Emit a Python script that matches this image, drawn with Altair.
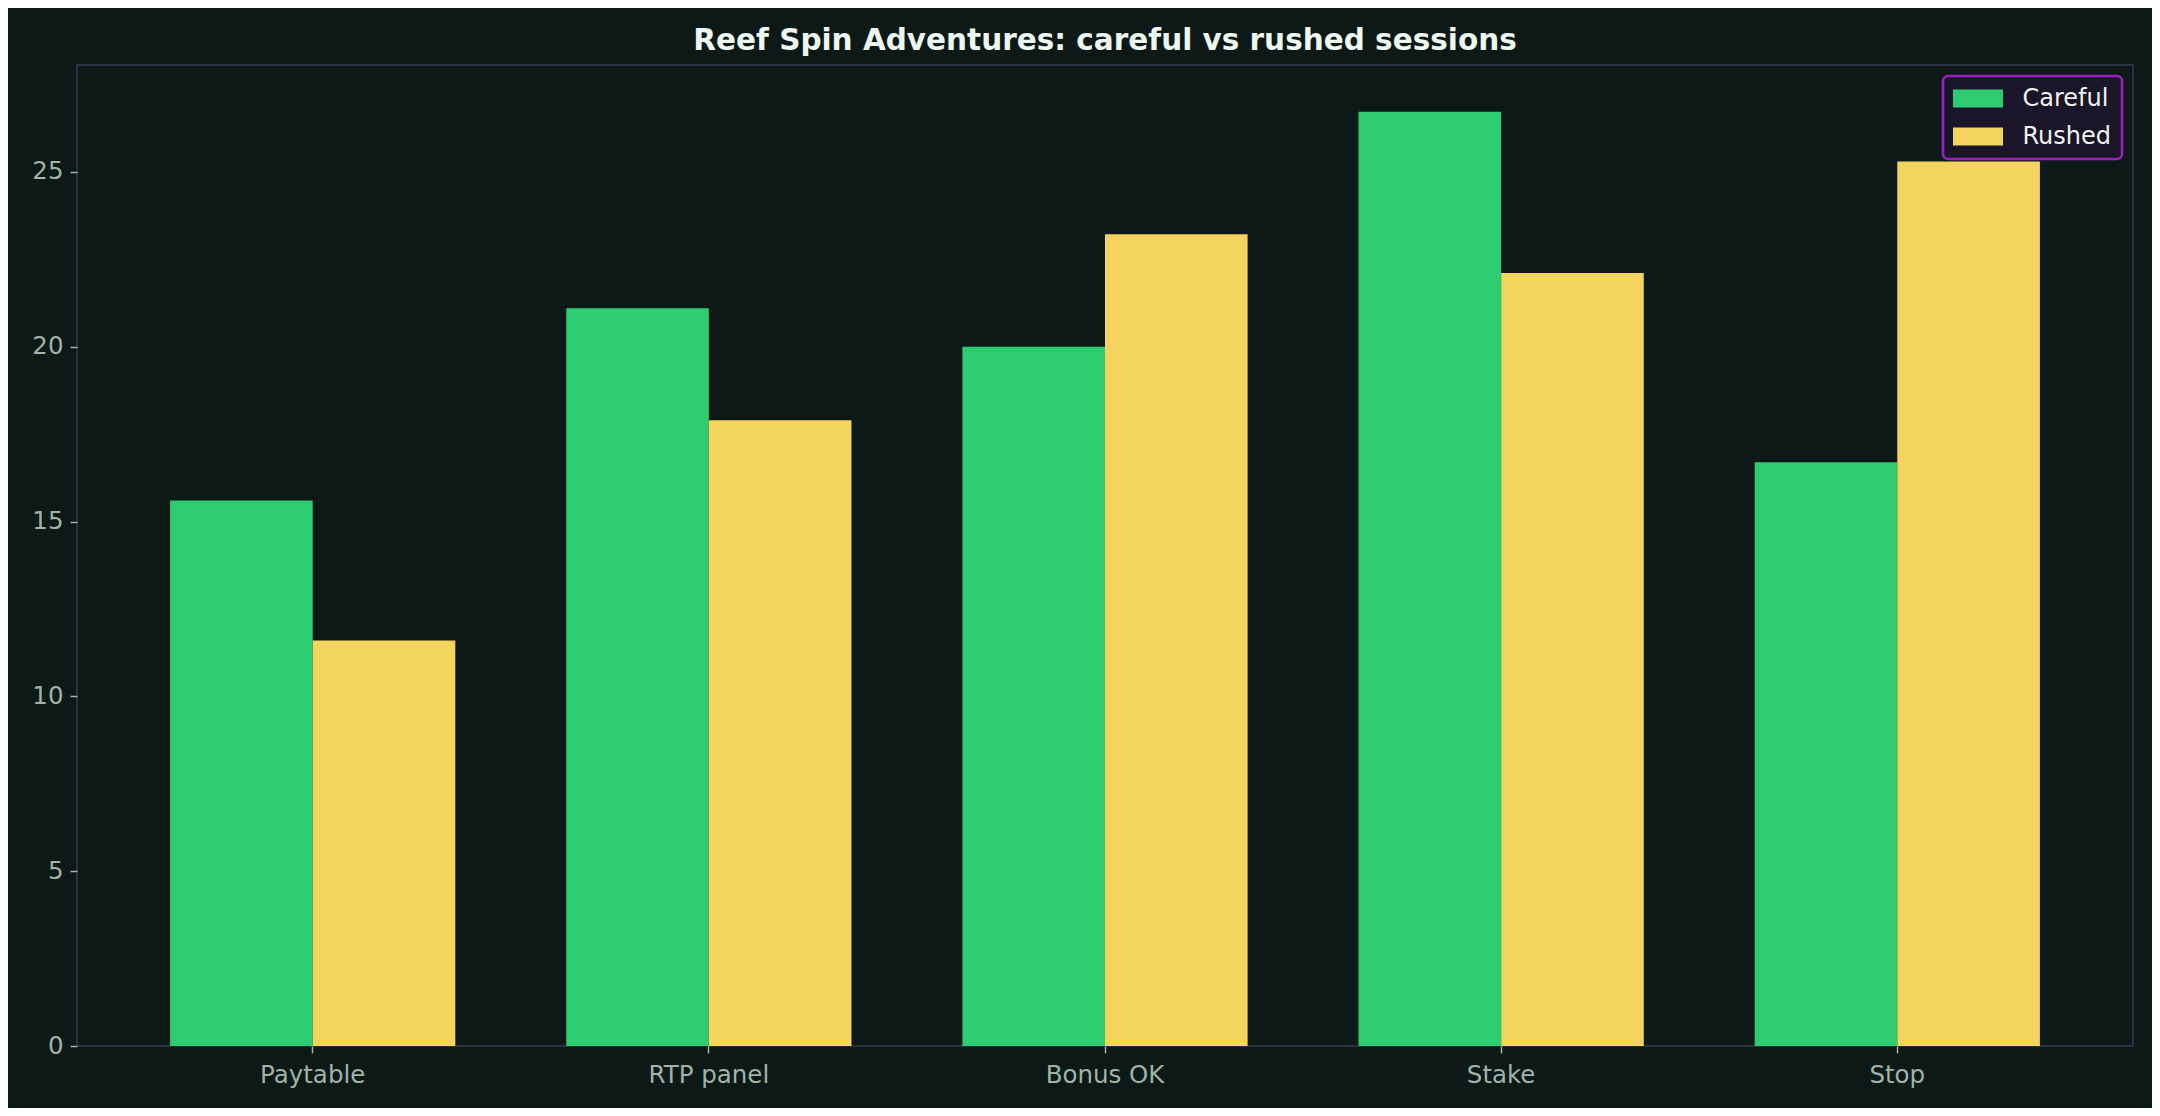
import altair as alt
import pandas as pd

steps = ["Paytable", "RTP panel", "Bonus OK", "Stake", "Stop"]
careful = [15.6, 21.1, 20.0, 26.72, 16.7]
rushed = [11.6, 17.9, 23.22, 22.11, 25.3]
modes = ["Careful", "Rushed"]
colors = ["#2ecc71", "#f4d35e"]
y_ticks = [0, 5, 10, 15, 20, 25]

rows = []
for s, c, r in zip(steps, careful, rushed):
    rows.append({"step": s, "mode": "Careful", "value": c})
    rows.append({"step": s, "mode": "Rushed", "value": r})
df = pd.DataFrame(rows)

BG = "#0c1917"
FONT = "DejaVu Sans"
LABEL = "#9fb3a7"

chart = (
    alt.Chart(df)
    .mark_bar()
    .encode(
        x=alt.X(
            "step:N",
            sort=steps,
            title=None,
            scale=alt.Scale(paddingInner=0.28, paddingOuter=0.235),
            axis=alt.Axis(labelAngle=0, domain=False, ticks=True, tickSize=7,
                          tickWidth=1.5, tickColor=LABEL, labelPadding=10),
        ),
        xOffset=alt.XOffset("mode:N", sort=modes),
        y=alt.Y(
            "value:Q",
            title=None,
            scale=alt.Scale(domain=[0, 28.06], nice=False, zero=True),
            axis=alt.Axis(values=y_ticks, grid=False, domain=False, tickSize=7,
                          tickWidth=1.5, tickColor=LABEL, labelPadding=7),
        ),
        color=alt.Color(
            "mode:N",
            sort=modes,
            scale=alt.Scale(domain=modes, range=colors),
            legend=alt.Legend(
                title=None,
                orient="top-right",
                offset=11,
                symbolType="M-2,-0.72L2,-0.72L2,0.72L-2,0.72Z",
                symbolSize=625,
                symbolOffset=12.5,
                symbolStrokeWidth=0,
            ),
        ),
    )
    .properties(
        width=2056,
        height=981,
        autosize=alt.AutoSizeParams(type="none"),
        padding={"left": 69, "top": 57, "right": 19, "bottom": 62},
        background=BG,
        title=alt.TitleParams(
            "Reef Spin Adventures: careful vs rushed sessions",
            anchor="middle",
            font=FONT,
            fontSize=29.5,
            fontWeight="bold",
            color="#eef6f0",
            offset=9,
        ),
    )
    .configure_view(stroke="#283241", strokeWidth=2, fill=BG)
    .configure_axis(
        labelFont=FONT,
        labelFontSize=24.5,
        labelColor=LABEL,
    )
    .configure_legend(
        labelFont=FONT,
        labelFontSize=24,
        labelColor="#eef2f0",
        fillColor="#1b1529",
        strokeColor="#9a1fc2",
        strokeWidth=2.5,
        cornerRadius=5,
        padding=10,
        labelOffset=32,
        rowPadding=13,
    )
)

chart.save("out.html", embed_options={"renderer": "svg", "actions": False})
